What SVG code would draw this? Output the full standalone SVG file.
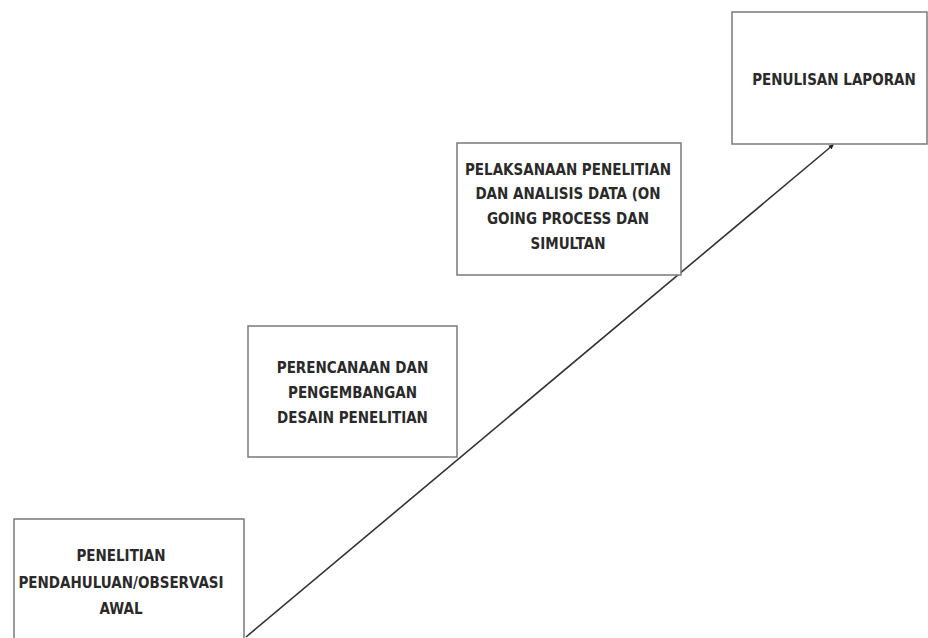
<svg xmlns="http://www.w3.org/2000/svg" width="928" height="638" viewBox="0 0 928 638">
<style>
.box{fill:#fff;stroke:#7a7a7a;stroke-width:1.5}
.t{font-family:"DejaVu Sans Condensed","Liberation Sans Narrow","Liberation Sans",sans-serif;font-weight:bold;font-size:15px;fill:#2a2a2a;text-anchor:middle}
.ln{stroke:#333;stroke-width:1.6;fill:none}
</style>
<defs>
<marker id="ah" markerWidth="6" markerHeight="6" refX="4" refY="3" orient="auto" markerUnits="userSpaceOnUse">
<path d="M0,0.5 L5,3 L0,5.5 Z" fill="#222"/>
</marker>
</defs>
<rect width="928" height="638" fill="#fff"/>
<g id="connectors">
<line class="ln" x1="246" y1="637" x2="833" y2="145" marker-end="url(#ah)"/>
</g>
<g id="node1">
<rect class="box" x="14" y="519" width="230" height="125"/>
<text class="t" x="121" y="561">PENELITIAN</text>
<text class="t" x="121" y="588">PENDAHULUAN/OBSERVASI</text>
<text class="t" x="121" y="614">AWAL</text>
</g>
<g id="node2">
<rect class="box" x="248" y="326" width="209" height="131"/>
<text class="t" x="352.5" y="373">PERENCANAAN DAN</text>
<text class="t" x="352.5" y="398">PENGEMBANGAN</text>
<text class="t" x="352.5" y="423">DESAIN PENELITIAN</text>
</g>
<g id="node3">
<rect class="box" x="457" y="143" width="224" height="132"/>
<text class="t" x="568" y="175">PELAKSANAAN PENELITIAN</text>
<text class="t" x="568" y="199">DAN ANALISIS DATA (ON</text>
<text class="t" x="568" y="224">GOING PROCESS DAN</text>
<text class="t" x="568" y="249">SIMULTAN</text>
</g>
<g id="node4">
<rect class="box" x="732" y="12" width="195" height="132"/>
<text class="t" x="834" y="85">PENULISAN LAPORAN</text>
</g>
</svg>
